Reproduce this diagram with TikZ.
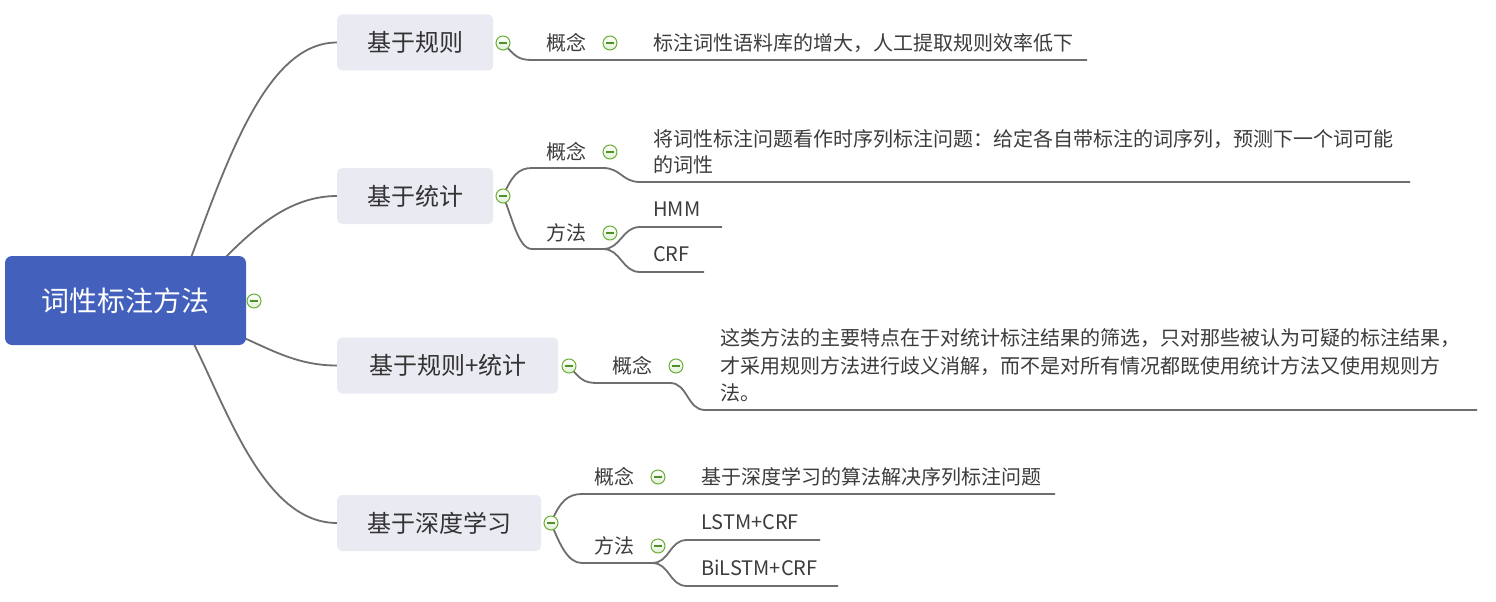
\documentclass[tikz,border=0pt]{standalone}
\usepackage{fontspec}
\setmainfont{Noto Sans CJK SC}
\definecolor{rootc}{HTML}{4360BC}
\definecolor{topicc}{HTML}{E9EAF2}
\definecolor{linec}{HTML}{6E6E6E}
\definecolor{textc}{HTML}{333333}
\definecolor{subc}{HTML}{3C3C3C}
\definecolor{foldc}{HTML}{6BAE38}
\definecolor{foldf}{HTML}{E6F3DC}
\definecolor{foldm}{HTML}{4F9128}
\pgfdeclarelayer{bg}
\pgfdeclarelayer{paper}
\pgfsetlayers{paper,bg,main}
\begin{document}
\begin{tikzpicture}[x=1pt,y=-1pt,
  conn/.style={draw=linec, line width=1.8pt},
  rootbox/.style={fill=rootc, rounded corners=7pt, minimum width=241pt, minimum height=89pt, text=white, font=\fontsize{28}{30}\selectfont, inner sep=0pt},
  topic/.style={fill=topicc, rounded corners=5pt, minimum height=56pt, text=textc, font=\fontsize{24}{26}\selectfont, inner sep=0pt, anchor=west},
  sub/.style={text=subc, font=\fontsize{20}{26.5}\selectfont, inner sep=0pt, anchor=base west, align=left},
  fold/.style={circle, draw=foldc, top color=white, bottom color=foldf!80!foldc!60, line width=1pt, minimum size=14pt, inner sep=0pt,
    path picture={\draw[foldm, line width=1.3pt] ([xshift=-4pt]path picture bounding box.center) -- ([xshift=4pt]path picture bounding box.center);}}
]
\useasboundingbox (0,0) rectangle (1496,602);
\begin{pgfonlayer}{paper}
\fill[white] (0,0) rectangle (1496,602);
\end{pgfonlayer}

% root and topics
\node[rootbox] (root) at (125.5,300.5) {词性标注方法};
\node[fold] (f0) at (254,301) {};
\node[topic, minimum width=156pt] (t1) at (337,42.5) {基于规则};
\node[topic, minimum width=156pt] (t2) at (337,196) {基于统计};
\node[topic, minimum width=221pt] (t3) at (337,365.5) {基于规则+统计};
\node[topic, minimum width=204pt] (t4) at (337,523) {基于深度学习};

\node[fold] (f1) at (503,43) {};
\node[fold] (f2) at (503,196) {};
\node[fold] (f3) at (569,366) {};
\node[fold] (f4) at (551,523) {};

% level 2 and 3 texts (baseline of last line = centre + 7.6)
\node[sub] (a1) at (546,50.6) {概念};
\node[fold] (fa1) at (610,43) {};
\node[sub] (a1x) at (653,50.6) {标注词性语料库的增大，人工提取规则效率低下};

\node[sub] (b1) at (546,159.6) {概念};
\node[fold] (fb1) at (610,152) {};
\node[sub] (b1x) at (653,172.6) {将词性标注问题看作时序列标注问题：给定各自带标注的词序列，预测下一个词可能\\的词性};
\node[sub] (b2) at (546,240.6) {方法};
\node[fold] (fb2) at (610,233) {};
\node[sub] (b21) at (653,216.6) {HMM};
\node[sub] (b22) at (653,261.6) {CRF};

\node[sub] (c1) at (612,373.6) {概念};
\node[fold] (fc1) at (676,366) {};
\node[sub, font=\fontsize{20}{27.5}\selectfont] (c1x) at (720,400.6) {这类方法的主要特点在于对统计标注结果的筛选，只对那些被认为可疑的标注结果，\\才采用规则方法进行歧义消解，而不是对所有情况都既使用统计方法又使用规则方\\法。};

\node[sub] (d1) at (594,484.6) {概念};
\node[fold] (fd1) at (658,477) {};
\node[sub] (d1x) at (701,484.6) {基于深度学习的算法解决序列标注问题};
\node[sub] (d2) at (594,553.6) {方法};
\node[fold] (fd2) at (658,546) {};
\node[sub] (d21) at (701,529.6) {LSTM+CRF};
\node[sub] (d22) at (701,575.6) {BiLSTM+CRF};

% named points of the underlines
\coordinate (ua1) at (532,60);   \coordinate (ua1e) at (1087,60);
\coordinate (ub1) at (532,168);  \coordinate (ub1m) at (603,168);
\coordinate (ub1x) at (640,182); \coordinate (ub1e) at (1410,182);
\coordinate (ub2) at (532,249);  \coordinate (ub2m) at (603,249);
\coordinate (ub21) at (640,227); \coordinate (ub21e) at (722,227);
\coordinate (ub22) at (640,272); \coordinate (ub22e) at (704,272);
\coordinate (uc1) at (598,383);  \coordinate (uc1m) at (670,383);
\coordinate (uc1x) at (705,410); \coordinate (uc1e) at (1477,410);
\coordinate (ud1) at (582,494);  \coordinate (ud1e) at (1055,494);
\coordinate (ud2) at (582,563);  \coordinate (ud2m) at (652,563);
\coordinate (ud21) at (687,540); \coordinate (ud21e) at (820,540);
\coordinate (ud22) at (687,586); \coordinate (ud22e) at (838,586);

\begin{pgfonlayer}{bg}
% root connectors
\draw[conn] ([xshift=65.5pt,yshift=-2pt]root.north) .. controls +(40,-110) and +(-67,0) .. (t1.west);
\draw[conn] ([xshift=99.5pt,yshift=-2pt]root.north) .. controls +(30,-30) and +(-47,0) .. (t2.west);
\draw[conn] ([xshift=-2pt,yshift=-37.5pt]root.east) .. controls +(31,14) and +(-37,0) .. (t3.west);
\draw[conn] ([xshift=68pt,yshift=2pt]root.south) .. controls +(35,70) and +(-72,0) .. (t4.west);
% rule branch
\draw[conn] (f1.center) .. controls +(12,13) and +(-14,0) .. (ua1) -- (ua1e);
% statistics branch
\draw[conn] (f2.center) .. controls +(9,-20) and +(-14,0) .. (ub1) -- (ub1m) .. controls +(18,0) and +(-18,0) .. (ub1x) -- (ub1e);
\draw[conn] (f2.center) .. controls +(9,20) and +(-14,0) .. (ub2) -- (ub2m) .. controls +(18,0) and +(-18,0) .. (ub21) -- (ub21e);
\draw[conn] (ub2m) .. controls +(18,0) and +(-18,0) .. (ub22) -- (ub22e);
% rule + statistics branch
\draw[conn] (f3.center) .. controls +(12,14) and +(-14,0) .. (uc1) -- (uc1m) .. controls +(18,0) and +(-18,0) .. (uc1x) -- (uc1e);
% deep learning branch
\draw[conn] (f4.center) .. controls +(9,-22) and +(-14,0) .. (ud1) -- (ud1e);
\draw[conn] (f4.center) .. controls +(9,22) and +(-14,0) .. (ud2) -- (ud2m) .. controls +(18,0) and +(-18,0) .. (ud21) -- (ud21e);
\draw[conn] (ud2m) .. controls +(18,0) and +(-18,0) .. (ud22) -- (ud22e);
\end{pgfonlayer}
\end{tikzpicture}
\end{document}
